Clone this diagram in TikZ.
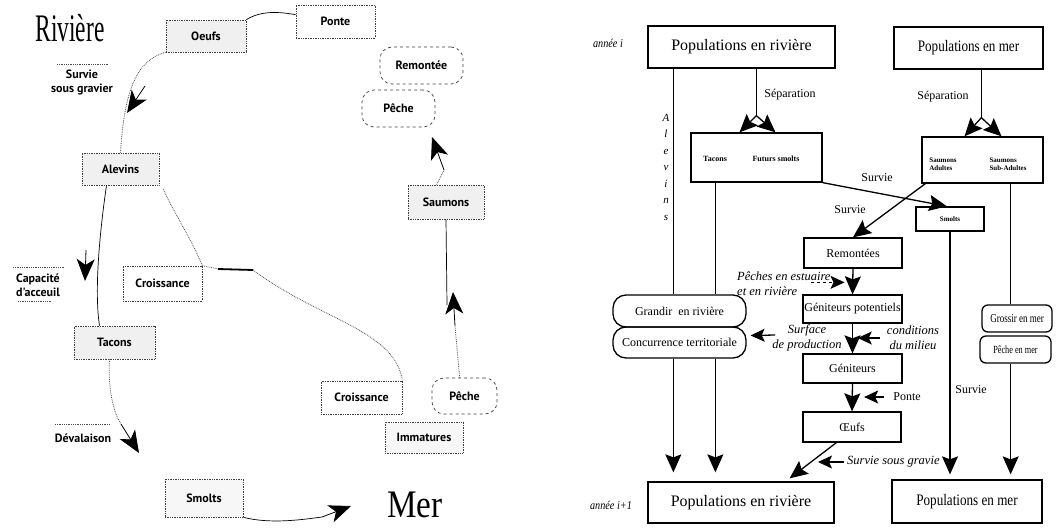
\documentclass[tikz,border=0pt]{standalone}
\usepackage{fontspec}
\setmainfont{Liberation Serif}
\newfontfamily\lsf{PT Sans}
\usetikzlibrary{arrows.meta,calc}
\begin{document}
\begin{tikzpicture}[x=1pt,y=-1pt,
  every node/.style={inner sep=1pt},
  lbl/.style={font=\lsf\bfseries\fontsize{12}{14}\selectfont},
  lbox/.style={draw=black!75, densely dotted, line width=0.7pt, inner sep=0pt, font=\lsf\bfseries\fontsize{12}{14}\selectfont},
  lshade/.style={lbox, fill=gray!12},
  lround/.style={lbox, rounded corners=12pt, dashed},
  conn/.style={line width=0.7pt},
  dconn/.style={line width=0.8pt, densely dotted, black!70},
  big/.style={-{Stealth[length=22pt,width=18pt,inset=6pt]}, line width=0.8pt},
  rbox/.style={draw, line width=1.3pt, inner sep=0pt, font=\fontsize{12}{14}\selectfont},
  rpop/.style={rbox, font=\fontsize{16}{18}\selectfont},
  rround/.style={rbox, rounded corners=13pt},
  rline/.style={line width=1.3pt},
  arr/.style={rline, -{Stealth[length=18pt,width=16pt,inset=3pt]}},
  arrS/.style={rline, -{Stealth[length=14pt,width=13pt,inset=3pt]}},
  ilbl/.style={font=\itshape\fontsize{12.5}{15}\selectfont},
  rlbl/.style={font=\fontsize{12}{14}\selectfont},
]
\useasboundingbox[fill=white] (0,0) rectangle (1059,527);

% ---------------- left panel ----------------
\node[font=\fontsize{39}{40}\selectfont] (riv) at (70,28) {\scalebox{0.6}[1]{Rivière}};
\node[font=\fontsize{39}{40}\selectfont] (mer) at (415,505) {\scalebox{0.85}[1]{Mer}};

\node[lshade, minimum width=80, minimum height=32] (oeufs) at (206,36) {Oeufs};
\node[lbox, minimum width=79, minimum height=33] (ponte) at (335.5,21.5) {Ponte};
\node[lround, minimum width=83, minimum height=37] (remontee) at (421.5,65.5) {Remontée};
\node[lround, minimum width=73, minimum height=37] (peche1) at (398.5,108.5) {Pêche};
\node[lshade, minimum width=76, minimum height=34] (saumons) at (446,202) {Saumons};
\node[lshade, minimum width=77, minimum height=32] (alevins) at (120.5,169) {Alevins};
\node[lbox, minimum width=79, minimum height=35] (croisL) at (162.5,283.5) {Croissance};
\node[lshade, minimum width=81, minimum height=33] (tacons) at (114.5,342.5) {Tacons};
\node[lshade, fill=gray!6, minimum width=78, minimum height=38] (smolts) at (204,498) {Smolts};
\node[lbox, minimum width=81, minimum height=33] (croisR) at (361.5,397.5) {Croissance};
\node[lround, minimum width=65, minimum height=36] (peche2) at (464.5,396) {Pêche};
\node[lshade, fill=gray!6, minimum width=78, minimum height=31] (immat) at (424,437.5) {Immatures};

\node[lbl, align=center] (survie) at (82,82) {Survie\\sous gravier};
\node[lbl, align=center] (capa) at (38,285) {Capacité\\d'acceuil};
\node[lbl] (deval) at (83,438) {Dévalaison};
\draw[dconn] ($(survie.north)+(-25,-4)$) -- ($(survie.north)+(26,-4)$);
\draw[dconn] ($(capa.north)+(-25,-5)$) -- ($(capa.north)+(26,-5)$);
\draw[dconn] ($(capa.south)+(-20,4)$) -- ($(capa.south)+(14,4)$);
\draw[dconn] ($(deval.north)+(-28,-8)$) -- ($(deval.north)+(27,-8)$);

\coordinate (sgA) at (145,86);  \coordinate (sgB) at (127,113);
\coordinate (caA) at (86,250);  \coordinate (caB) at (85,281);
\coordinate (dvA) at (121,424); \coordinate (dvB) at (139,453);
\coordinate (mrA) at (322,517); \coordinate (mrB) at (351,506);
\coordinate (spA) at (444,170); \coordinate (spB) at (432,137);
\coordinate (psA) at (455,326); \coordinate (psB) at (453,292);
\coordinate (psL) at (447,305);
\coordinate (blA) at (218,269); \coordinate (blB) at (253,270);

\draw[conn] (oeufs.north east) .. controls (262,10) and (280,12) .. ($(ponte.north west)+(0,10)$);
\draw[dconn] (oeufs.south west) .. controls (135,60) and (124,95) .. (alevins.north);
\draw[big] (sgA) -- (sgB);
\draw[conn] ($(alevins.south)+(-14,0)$) .. controls (100,230) and (94,290) .. ($(tacons.north)+(-15,0)$);
\draw[big] (caA) -- (caB);
\draw[dconn] ($(alevins.south east)+(4,4)$) .. controls (175,215) and (192,240) .. (croisL.north east);
\draw[dconn] (croisL.north east) -- (blA);
\draw[line width=1.8pt] (blA) -- (blB);
\draw[dconn] (blB) .. controls (320,320) and (395,330) .. (croisR.north east);
\draw[dconn] ($(tacons.south)+(-5,0)$) .. controls (108,385) and (112,410) .. (dvA);
\draw[big] (dvA) -- (dvB);
\draw[conn] (smolts.south east) .. controls (270,524) and (300,520) .. (mrA);
\draw[big] (mrA) -- (mrB);
\draw[dconn] ($(saumons.north west)+(29,0)$) -- (spA);
\draw[big] (spA) -- (spB);
\draw[conn] (saumons.south) -- (psL);
\draw[dconn] ($(peche2.north west)+(28,0)$) -- (psA);
\draw[big] (psA) -- (psB);

% ---------------- right panel ----------------
\node[rpop, minimum width=187, minimum height=42] (pr1) at (741.5,47) {Populations en rivière};
\node[rpop, minimum width=149, minimum height=42] (pm1) at (968.5,48) {\scalebox{0.82}[1]{Populations en mer}};
\node[rbox, minimum width=131, minimum height=49] (tf) at (756.5,157.5) {};
\node[font=\bfseries\fontsize{8}{9}\selectfont] (tfa) at (715,159) {Tacons};
\node[font=\bfseries\fontsize{8}{9}\selectfont] (tfb) at (776,159) {Futurs smolts};
\node[rbox, minimum width=121, minimum height=46] (sa) at (982.5,160) {};
\node[font=\bfseries\fontsize{7}{8}\selectfont, align=left] (saa) at (943,164) {Saumons\\Adultes};
\node[font=\bfseries\fontsize{7}{8}\selectfont, align=left] (sab) at (1008,164) {Saumons\\Sub-Adultes};
\node[rbox, minimum width=68, minimum height=24, font=\bfseries\fontsize{7}{8}\selectfont] (sm) at (950,219) {Smolts};
\node[rbox, minimum width=98, minimum height=30] (rem) at (853,253) {Remontées};
\node[rbox, minimum width=99, minimum height=28] (gp) at (852.5,309) {Géniteurs potentiels};
\node[rbox, minimum width=99, minimum height=29] (gen) at (852.5,368.5) {Géniteurs};
\node[rbox, minimum width=98, minimum height=30] (oe) at (852,427) {Œufs};
\node[rpop, minimum width=186, minimum height=41] (pr2) at (741,502.5) {Populations en rivière};
\node[rpop, minimum width=150, minimum height=43] (pm2) at (967,501.5) {\scalebox{0.82}[1]{Populations en mer}};
\node[rround, minimum width=133, minimum height=32] (grandir) at (679.5,311) {Grandir\ \ en rivière};
\node[rround, minimum width=133, minimum height=31] (conc) at (679.5,342.5) {Concurrence territoriale};
\node[rbox, rounded corners=6pt, minimum width=70, minimum height=27] (gross) at (1017,318.5) {\scalebox{0.75}[1]{Grossir en mer}};
\node[rbox, rounded corners=6pt, minimum width=71, minimum height=27, font=\fontsize{11}{12}\selectfont] (pmer) at (1015.5,349.5) {\scalebox{0.75}[1]{Pêche en mer}};

\node[font=\itshape\fontsize{12}{13}\selectfont] (ai) at (608,43) {\scalebox{0.85}[1]{année i}};
\node[font=\itshape\fontsize{12}{13}\selectfont] (ai1) at (611,505) {\scalebox{0.85}[1]{année i+1}};
\node[font=\itshape\fontsize{11}{16.5}\selectfont, align=center] (alv) at (666,167) {A\\l\\e\\v\\i\\n\\s};
\node[rlbl] (sep1) at (790,95) {Séparation};
\node[rlbl] (sep2) at (943,97) {Séparation};
\node[rlbl] (surv1) at (877,178) {Survie};
\node[rlbl] (surv2) at (850,210) {Survie};
\node[rlbl] (surv3) at (971,390) {Survie};
\node[ilbl, align=left, anchor=west] (peches) at (736,284) {Pêches en estuaire\\et en rivière};
\node[ilbl, align=center] (surf) at (807,338) {Surface\\de production};
\node[ilbl, align=center] (cond) at (913,338) {conditions\\du milieu};
\node[rlbl] (pontel) at (907,397) {Ponte};
\node[ilbl, anchor=west] (ssg) at (846,462) {Survie sous gravie};

\draw[rline] ($(pr1.south west)+(26,0)$) coordinate (a1) -- (a1 |- grandir.north);
\draw[arr, shorten >=9pt] (a1 |- conc.south) -- (a1 |- pr2.north);
\draw[rline] ($(tf.south west)+(25,0)$) coordinate (a2) -- (a2 |- grandir.north);
\draw[arr, shorten >=9pt] (a2 |- conc.south) -- (a2 |- pr2.north);

\draw[rline] ($(pr1.south west)+(109,0)$) coordinate (s1) -- ++(0,47) coordinate (s1b);
\draw[arr] (s1b) -- ($(tf.north)+(-17,0)$);
\draw[arr] (s1b) -- ($(tf.north)+(19,0)$);
\draw[rline] ($(pm1.south west)+(88,0)$) coordinate (s2) -- ++(0,48) coordinate (s2b);
\draw[arr] (s2b) -- ($(sa.north)+(-18,0)$);
\draw[arr] (s2b) -- ($(sa.north)+(19,0)$);

\draw[arr] (tf.south east) -- ($(sm.north)+(-3,0)$);
\draw[arr] ($(sa.south west)+(4,0)$) -- (rem.north);
\draw[arr] (rem.south) -- (gp.north);
\draw[arr] (gp.south) -- (gen.north);
\draw[arr] (gen.south) -- (oe.north);
\draw[arr, shorten >=5pt] ($(oe.south west)+(34,0)$) -- ($(pr2.north east)+(-49,0)$);
\draw[arr, shorten >=5pt] (sm.south) -- (sm.south |- pm2.north);
\draw[rline] ($(sa.south east)+(-33,0)$) coordinate (a3) -- (a3 |- gross.north);
\draw[arr, shorten >=5pt] (a3 |- pmer.south) -- (a3 |- pm2.north);

\draw[arrS] ($(pontel.west)+(-8,0)$) -- ++(-20,0);
\draw[arrS] ($(cond.west)+(-6,0)$) -- ++(-22,0);
\draw[arrS] ($(surf.west)+(4,-3)$) -- ($(conc.east)+(4,-7)$);
\draw[arrS, dashed, line width=1pt] ($(gp.north)+(-42,-12)$) -- ($(gp.north)+(-8,-12)$);
\draw[arrS] ($(ssg.west)+(-2,0)$) -- ++(-26,0);
\end{tikzpicture}
\end{document}
